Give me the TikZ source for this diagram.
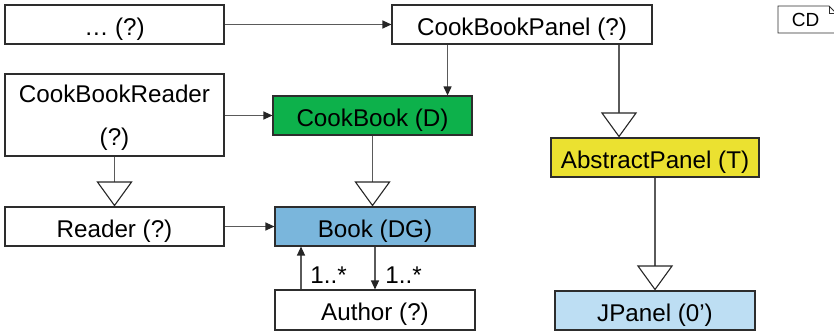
\documentclass[tikz,border=0pt]{standalone}
\usepackage{fontspec}
\setmainfont{Liberation Sans}
\usetikzlibrary{arrows.meta}
\definecolor{cbgreen}{RGB}{13,177,75}
\definecolor{bookblue}{RGB}{122,182,220}
\definecolor{absyellow}{RGB}{235,225,48}
\definecolor{jpblue}{RGB}{189,222,243}
\definecolor{edgegray}{RGB}{90,90,90}
\definecolor{boxline}{RGB}{45,45,45}
\begin{document}
\begin{tikzpicture}[x=1pt,y=-1pt,
  cls/.style={draw=boxline, line width=1.1pt, fill=white, rectangle,
    minimum height=39pt, inner sep=0pt,
    font=\fontsize{24.2}{43.3}\selectfont},
  oneline/.style={text height=24pt, text depth=2.2pt},
  assoc/.style={draw=edgegray, line width=1.2pt,
    -{Triangle[length=9pt,width=8pt,color=black!85]}},
  inherit/.style={draw=edgegray, line width=1.2pt,
    -{Triangle[open,length=25pt,width=36pt,line width=1.1pt,fill=white,color=black!85]}},
  mult/.style={font=\fontsize{24.2}{28}\selectfont, inner sep=0pt}]
  \useasboundingbox (0,0) rectangle (834,331);

  % classes
  \node[cls, oneline, minimum width=219pt] (dots) at (114.5,24.5) {\dots\ (?)};
  \node[cls, oneline, minimum width=260pt] (cbp) at (522,24.5) {CookBookPanel (?)};
  \node[cls, minimum width=219pt, minimum height=82pt, align=center]
    (cbr) at (114.5,115) {\rule{0pt}{23.7pt}CookBookReader\\(?)};
  \node[cls, oneline, fill=cbgreen, minimum width=199pt] (cb) at (372.5,115.5) {CookBook (D)};
  \node[cls, oneline, fill=absyellow, minimum width=208pt] (ap) at (655,157.5) {AbstractPanel (T)};
  \node[cls, oneline, minimum width=219pt] (rd) at (114.5,226.5) {Reader (?)};
  \node[cls, oneline, fill=bookblue, minimum width=200pt] (bk) at (375,226.5) {Book (DG)};
  \node[cls, oneline, minimum width=200pt, minimum height=40pt] (au) at (375,310) {Author (?)};
  \node[cls, oneline, fill=jpblue, minimum width=200pt] (jp) at (655,310.5) {JPanel (0’)};

  % diagram frame note
  \draw[draw=boxline, line width=0.9pt, fill=white]
    (778,6) -- (829,6) -- (836,13) -- (836,33) -- (778,33) -- cycle;
  \draw[draw=boxline, line width=0.7pt] (829,6) -- (829,13) -- (836,13);
  \node[font=\fontsize{19}{22}\selectfont, inner sep=0pt] (cdlabel) at (805.5,20.3) {CD};

  % associations
  \draw[assoc] (dots.east) -- (cbp.west);
  \draw[assoc] ([xshift=-25pt]cb.north east |- cbp.south) -- ([xshift=-25pt]cb.north east);
  \draw[assoc] (cbr.east |- cb.west) -- (cb.west);
  \draw[assoc] (rd.east) -- (bk.west);
  \draw[assoc] (bk.south) -- (au.north);
  \draw[assoc] ([xshift=-74pt]au.north) -- ([xshift=-74pt]au.north |- bk.south);
  \node[mult] (m1) at (328.5,275.5) {1..*};
  \node[mult] (m2) at (403.5,275.5) {1..*};

  % generalizations
  \draw[inherit] ([xshift=-36pt]ap.north |- cbp.south) -- ([xshift=-36pt]ap.north);
  \draw[inherit] (ap.south) -- (jp.north);
  \draw[inherit] (cbr.south) -- (rd.north);
  \draw[inherit] (cb.south) -- (cb.south |- bk.north);
\end{tikzpicture}
\end{document}
